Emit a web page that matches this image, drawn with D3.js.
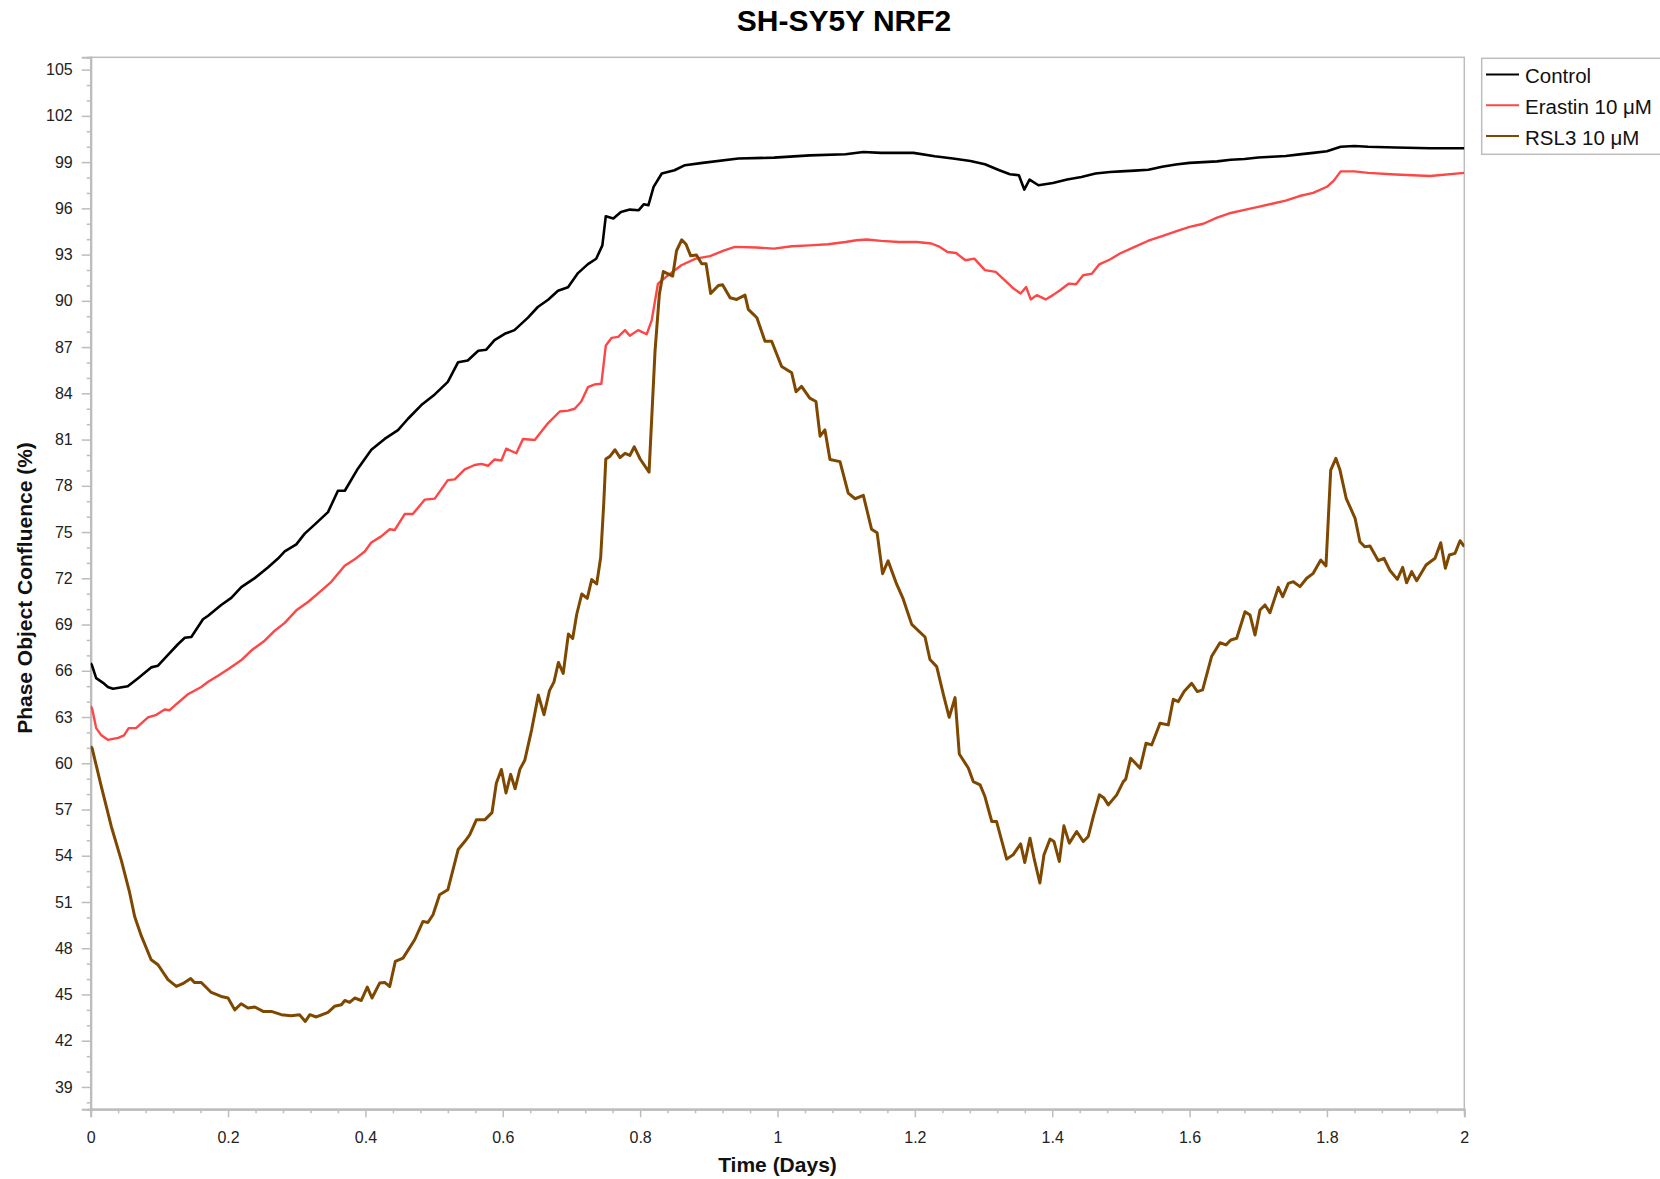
<!DOCTYPE html>
<html>
<head>
<meta charset="utf-8">
<script src="https://cdn.jsdelivr.net/npm/d3@7"></script>
<style>
  html, body { margin: 0; padding: 0; background: #fff; }
  svg { display: block; font-family: "Liberation Sans", Arial, sans-serif; }
</style>
</head>
<body>
<svg id="chart" width="1660" height="1179"></svg>
<script>
// ---------------- data ----------------
const title = "SH-SY5Y NRF2";
const xLabel = "Time (Days)";
const yLabel = "Phase Object Confluence (%)";
const seriesNames = ["Control", "Erastin 10 μM", "RSL3 10 μM"];
const seriesColors = ["#000000", "#ff4646", "#7f4800"];
const xTickValues = [0, 0.2, 0.4, 0.6, 0.8, 1, 1.2, 1.4, 1.6, 1.8, 2];
const yTickValues = [39, 42, 45, 48, 51, 54, 57, 60, 63, 66, 69, 72, 75, 78, 81, 84, 87, 90, 93, 96, 99, 102, 105];

const controlData = [
[0,66.5],[0.002,66.33],[0.008,65.52],[0.018,65.22],[0.025,64.95],[0.0325,64.83],[0.054,64.99],[0.069,65.52],[0.088,66.22],[0.098,66.33],[0.1125,67.03],[0.127,67.72],[0.137,68.14],[0.1465,68.19],[0.1635,69.34],[0.171,69.57],[0.19,70.27],[0.2047,70.73],[0.2193,71.43],[0.2388,72.01],[0.258,72.7],[0.2727,73.28],[0.2825,73.74],[0.2994,74.2],[0.3116,74.9],[0.326,75.48],[0.3455,76.29],[0.36,77.68],[0.37,77.68],[0.389,79.11],[0.4086,80.34],[0.428,81.04],[0.4474,81.61],[0.462,82.35],[0.4814,83.24],[0.501,83.93],[0.52,84.74],[0.535,86.02],[0.549,86.13],[0.5643,86.76],[0.576,86.83],[0.588,87.45],[0.6028,87.86],[0.617,88.1],[0.6367,88.91],[0.651,89.6],[0.666,90.07],[0.6804,90.65],[0.695,90.88],[0.7095,91.8],[0.724,92.38],[0.736,92.73],[0.745,93.6],[0.75,95.49],[0.761,95.34],[0.772,95.77],[0.785,95.92],[0.798,95.88],[0.8055,96.27],[0.812,96.2],[0.8196,97.39],[0.8315,98.26],[0.85,98.47],[0.8653,98.8],[0.891,98.95],[0.943,99.23],[0.995,99.29],[1.047,99.44],[1.099,99.51],[1.125,99.66],[1.151,99.6],[1.198,99.6],[1.229,99.38],[1.2554,99.23],[1.281,99.07],[1.302,98.86],[1.323,98.47],[1.3385,98.21],[1.3515,98.15],[1.3593,97.22],[1.367,97.87],[1.38,97.5],[1.401,97.65],[1.4217,97.87],[1.4425,98.04],[1.463,98.26],[1.484,98.36],[1.5,98.4],[1.52,98.45],[1.54,98.5],[1.56,98.7],[1.58,98.85],[1.6,98.95],[1.62,99.0],[1.64,99.05],[1.66,99.15],[1.68,99.2],[1.7,99.3],[1.72,99.35],[1.74,99.4],[1.76,99.5],[1.78,99.6],[1.8,99.7],[1.82,100.0],[1.84,100.05],[1.86,100.0],[1.9,99.95],[1.95,99.9],[2.0,99.9]
];

const erastinData = [
[0,63.7],[0.002,63.55],[0.008,62.28],[0.0155,61.81],[0.025,61.52],[0.04,61.65],[0.0485,61.81],[0.0553,62.28],[0.066,62.28],[0.0834,62.98],[0.0956,63.14],[0.1077,63.49],[0.115,63.44],[0.1247,63.83],[0.1417,64.48],[0.161,64.95],[0.171,65.29],[0.1854,65.68],[0.2,66.1],[0.219,66.68],[0.2338,67.31],[0.2533,67.95],[0.268,68.6],[0.2825,69.11],[0.2994,69.92],[0.3164,70.46],[0.3358,71.2],[0.3503,71.77],[0.3698,72.82],[0.3844,73.23],[0.399,73.74],[0.4086,74.32],[0.423,74.72],[0.4354,75.18],[0.4426,75.13],[0.4572,76.17],[0.469,76.17],[0.4863,77.1],[0.501,77.17],[0.52,78.37],[0.53,78.42],[0.5446,79.07],[0.559,79.35],[0.5687,79.42],[0.5785,79.3],[0.588,79.71],[0.598,79.64],[0.605,80.41],[0.6197,80.11],[0.6294,81.04],[0.6465,80.97],[0.666,82.07],[0.683,82.82],[0.695,82.88],[0.7047,83.0],[0.7143,83.47],[0.724,84.4],[0.734,84.58],[0.7435,84.62],[0.75,87.1],[0.7586,87.6],[0.768,87.66],[0.778,88.1],[0.785,87.74],[0.797,88.1],[0.8095,87.83],[0.8168,88.73],[0.826,91.12],[0.839,91.6],[0.86,92.31],[0.881,92.74],[0.9017,92.9],[0.9225,93.28],[0.938,93.5],[0.969,93.46],[0.995,93.39],[1.021,93.54],[1.047,93.6],[1.0734,93.67],[1.099,93.82],[1.115,93.93],[1.13,93.98],[1.151,93.89],[1.177,93.82],[1.203,93.82],[1.224,93.72],[1.2346,93.54],[1.2475,93.17],[1.26,93.1],[1.2736,92.63],[1.2866,92.74],[1.302,91.99],[1.3177,91.88],[1.3307,91.34],[1.3437,90.8],[1.354,90.48],[1.362,90.9],[1.3687,90.09],[1.3776,90.37],[1.3905,90.09],[1.401,90.37],[1.4114,90.69],[1.4243,91.12],[1.4347,91.08],[1.445,91.66],[1.458,91.77],[1.4686,92.37],[1.484,92.68],[1.4987,93.07],[1.52,93.5],[1.54,93.9],[1.56,94.2],[1.58,94.5],[1.6,94.8],[1.62,95.0],[1.64,95.4],[1.66,95.7],[1.68,95.9],[1.7,96.1],[1.72,96.3],[1.74,96.5],[1.76,96.8],[1.78,97.0],[1.8,97.4],[1.81,97.8],[1.82,98.4],[1.84,98.4],[1.86,98.3],[1.9,98.2],[1.95,98.1],[2.0,98.3]
];

const rsl3Data = [
[0,61.1],[0.002,60.98],[0.0155,58.49],[0.03,55.9],[0.0446,53.7],[0.0567,51.6],[0.064,50.06],[0.0737,48.8],[0.088,47.25],[0.098,46.93],[0.1125,45.96],[0.1247,45.52],[0.134,45.7],[0.1456,46.04],[0.151,45.78],[0.161,45.78],[0.1756,45.13],[0.19,44.87],[0.2,44.77],[0.2097,44.0],[0.219,44.4],[0.229,44.12],[0.239,44.19],[0.251,43.9],[0.263,43.9],[0.2776,43.69],[0.292,43.62],[0.304,43.69],[0.3125,43.25],[0.319,43.69],[0.3285,43.54],[0.3455,43.84],[0.355,44.23],[0.365,44.33],[0.37,44.61],[0.377,44.48],[0.3844,44.77],[0.394,44.61],[0.4027,45.48],[0.4096,44.77],[0.4207,45.74],[0.428,45.78],[0.4354,45.52],[0.4435,47.14],[0.4547,47.36],[0.4717,48.55],[0.4838,49.74],[0.491,49.67],[0.4984,50.17],[0.508,51.47],[0.52,51.79],[0.535,54.4],[0.5446,54.92],[0.5518,55.36],[0.5615,56.33],[0.5737,56.33],[0.5843,56.8],[0.5906,58.7],[0.598,59.6],[0.6047,58.07],[0.6115,59.28],[0.618,58.35],[0.625,59.62],[0.632,60.19],[0.642,62.17],[0.6518,64.42],[0.66,63.15],[0.668,64.71],[0.6746,65.28],[0.681,66.54],[0.688,65.83],[0.6955,68.38],[0.7018,68.1],[0.7076,69.65],[0.715,70.98],[0.723,70.7],[0.7295,71.92],[0.7367,71.63],[0.7425,73.33],[0.747,76.86],[0.75,79.74],[0.756,79.91],[0.7634,80.34],[0.7707,79.83],[0.778,80.11],[0.785,79.97],[0.7915,80.53],[0.8,79.74],[0.813,78.89],[0.8217,86.75],[0.828,90.43],[0.8338,91.9],[0.8474,91.61],[0.853,93.25],[0.8605,93.96],[0.8668,93.67],[0.8736,92.92],[0.882,92.97],[0.8896,92.4],[0.896,92.4],[0.9027,90.48],[0.9139,91.0],[0.92,91.05],[0.931,90.2],[0.9406,90.09],[0.9527,90.37],[0.9575,89.45],[0.97,88.9],[0.9818,87.38],[0.9915,87.38],[1.006,85.74],[1.0207,85.33],[1.027,84.1],[1.035,84.45],[1.047,83.69],[1.056,83.47],[1.062,81.22],[1.069,81.63],[1.0764,79.71],[1.091,79.57],[1.103,77.52],[1.113,77.16],[1.125,77.38],[1.137,75.18],[1.145,74.96],[1.153,72.3],[1.161,73.13],[1.1735,71.62],[1.183,70.66],[1.1954,69.01],[1.2148,68.19],[1.222,66.73],[1.2318,66.27],[1.2414,64.49],[1.25,62.98],[1.2585,64.26],[1.2647,60.6],[1.278,59.68],[1.285,58.81],[1.295,58.6],[1.302,57.84],[1.312,56.22],[1.319,56.22],[1.3337,53.78],[1.343,54.06],[1.354,54.77],[1.36,53.56],[1.3676,55.14],[1.3735,53.85],[1.382,52.23],[1.388,54.06],[1.3968,55.08],[1.4026,54.92],[1.4103,53.63],[1.417,55.94],[1.4249,54.82],[1.4356,55.57],[1.4453,54.92],[1.4525,55.25],[1.4598,56.54],[1.4686,57.95],[1.4754,57.74],[1.4817,57.3],[1.4939,57.95],[1.5035,58.81],[1.507,58.97],[1.5142,60.33],[1.528,59.68],[1.5366,61.3],[1.5448,61.19],[1.557,62.6],[1.569,62.49],[1.5763,64.15],[1.5836,64.0],[1.592,64.65],[1.603,65.19],[1.6113,64.65],[1.619,64.76],[1.632,66.92],[1.6443,67.82],[1.653,67.68],[1.66,68.0],[1.6686,68.11],[1.6807,69.83],[1.688,69.62],[1.6953,68.32],[1.7025,69.94],[1.7098,70.27],[1.717,69.77],[1.7292,71.41],[1.7356,70.81],[1.7438,71.67],[1.751,71.78],[1.7608,71.46],[1.7705,72.0],[1.78,72.32],[1.791,73.19],[1.7986,72.8],[1.8055,79.02],[1.813,79.78],[1.819,79.02],[1.828,77.19],[1.841,75.89],[1.848,74.37],[1.855,74.05],[1.8627,74.09],[1.8748,73.14],[1.883,73.3],[1.8918,72.5],[1.9025,71.93],[1.9103,72.71],[1.916,71.71],[1.9234,72.43],[1.9307,71.84],[1.9443,72.86],[1.9574,73.3],[1.9657,74.31],[1.9724,72.65],[1.9782,73.51],[1.9865,73.62],[1.9938,74.44],[2.0,74.05]
];

const seriesData = [controlData, erastinData, rsl3Data];

// ---------------- layout ----------------
const svg = d3.select("#chart");
const plot = { left: 90.7, right: 1464.3, top: 57.3, bottom: 1109.3 };
const axisColor = "#bdbdbd";
const textColor = "#222";

const x = d3.scaleLinear().domain([0, 2]).range([plot.left, plot.right]);
const y = d3.scaleLinear().domain([37.55, 105.8]).range([plot.bottom, plot.top]);

// frame (top / right)
svg.append("rect")
  .attr("x", plot.left).attr("y", plot.top)
  .attr("width", plot.right - plot.left).attr("height", plot.bottom - plot.top)
  .attr("fill", "none").attr("stroke", axisColor).attr("stroke-width", 1.5);

// minor ticks
const yMinor = d3.range(38, 106, 1).filter(v => !yTickValues.includes(v));
const xMinor = d3.range(0, 2.0001, 0.04).map(v => +v.toFixed(2)).filter(v => !xTickValues.some(t => Math.abs(t - v) < 1e-6));

const gyMinor = svg.append("g").attr("transform", `translate(${plot.left},0)`)
  .call(d3.axisLeft(y).tickValues(yMinor).tickSize(4).tickFormat(""));
const gxMinor = svg.append("g").attr("transform", `translate(0,${plot.bottom})`)
  .call(d3.axisBottom(x).tickValues(xMinor).tickSize(4).tickFormat(""));

// major axes
const gy = svg.append("g").attr("transform", `translate(${plot.left},0)`)
  .call(d3.axisLeft(y).tickValues(yTickValues).tickSize(9).tickPadding(9).tickFormat(d3.format("d")));
const gx = svg.append("g").attr("transform", `translate(0,${plot.bottom})`)
  .call(d3.axisBottom(x).tickValues(xTickValues).tickSize(8).tickPadding(14).tickFormat(d => String(d)));

[gyMinor, gxMinor, gy, gx].forEach(g => {
  g.selectAll(".domain").attr("stroke", axisColor).attr("stroke-width", 2);
  g.selectAll(".tick line").attr("stroke", axisColor).attr("stroke-width", 1.5);
  g.selectAll(".tick text").attr("fill", textColor).style("font-size", "16px")
    .style("font-family", "'Liberation Sans', Arial, sans-serif");
});

// lines
const line = d3.line().x(d => x(d[0])).y(d => y(d[1]));
svg.append("clipPath").attr("id", "plotclip").append("rect")
  .attr("x", plot.left).attr("y", plot.top)
  .attr("width", plot.right - plot.left).attr("height", plot.bottom - plot.top);

const widths = [2.6, 2.4, 3];
seriesData.forEach((data, i) => {
  svg.append("path")
    .datum(data)
    .attr("clip-path", "url(#plotclip)")
    .attr("fill", "none")
    .attr("stroke", seriesColors[i])
    .attr("stroke-width", widths[i])
    .attr("stroke-linejoin", "round")
    .attr("d", line);
});

// title
svg.append("text")
  .attr("x", 844).attr("y", 30.5)
  .attr("text-anchor", "middle")
  .style("font-size", "30px").style("font-weight", "bold")
  .attr("fill", "#000")
  .text(title);

// axis titles
svg.append("text")
  .attr("x", (plot.left + plot.right) / 2).attr("y", 1172)
  .attr("text-anchor", "middle")
  .style("font-size", "21px").style("font-weight", "bold")
  .attr("fill", "#111")
  .text(xLabel);

svg.append("text")
  .attr("transform", `translate(32,588) rotate(-90)`)
  .attr("text-anchor", "middle")
  .style("font-size", "21px").style("font-weight", "bold")
  .attr("fill", "#111")
  .text(yLabel);

// legend
const legend = svg.append("g");
legend.append("rect")
  .attr("x", 1481.7).attr("y", 58.3)
  .attr("width", 200).attr("height", 96)
  .attr("fill", "#fff").attr("stroke", axisColor).attr("stroke-width", 1.5);

seriesNames.forEach((name, i) => {
  const cy = 74.5 + i * 30.8;
  legend.append("line")
    .attr("x1", 1486).attr("x2", 1519)
    .attr("y1", cy).attr("y2", cy)
    .attr("stroke", seriesColors[i]).attr("stroke-width", 2);
  legend.append("text")
    .attr("x", 1525).attr("y", cy + 8.5)
    .style("font-size", "20.5px")
    .attr("fill", "#111")
    .text(name);
});
</script>
</body>
</html>
